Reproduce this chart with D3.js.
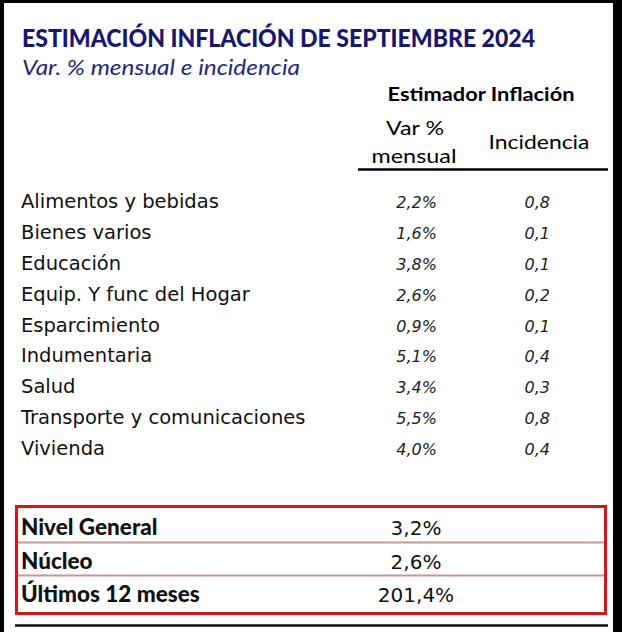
<!DOCTYPE html>
<html>
<head>
<meta charset="utf-8">
<script src="https://cdn.jsdelivr.net/npm/d3@7"></script>
<style>
  html, body { margin: 0; padding: 0; background: #000; }
  svg { display: block; }
</style>
</head>
<body>
<div id="tabla"></div>
<script>
// Datos
var categories  = ['Alimentos y bebidas', 'Bienes varios', 'Educación', 'Equip. Y func del Hogar',
                   'Esparcimiento', 'Indumentaria', 'Salud', 'Transporte y comunicaciones', 'Vivienda']
var varMensual  = [2.2, 1.6, 3.8, 2.6, 0.9, 5.1, 3.4, 5.5, 4.0]
var incidencia  = [0.8, 0.1, 0.1, 0.2, 0.1, 0.4, 0.3, 0.8, 0.4]

var resumenLabels = ['Nivel General', 'Núcleo', 'Últimos 12 meses']
var resumenValues = [3.2, 2.6, 201.4]

var title    = 'ESTIMACIÓN INFLACIÓN DE SEPTIEMBRE 2024'
var subtitle = 'Var. % mensual e incidencia'

// Tamaño
var width  = 622
var height = 632

var navy = '#17176e'
var red  = '#d7151b'

// formato con coma decimal
var es = d3.formatLocale({decimal: ',', thousands: '.', grouping: [3], currency: ['$', '']})
var fmt = es.format('.1f')

var svg = d3.select('#tabla').append('svg')
    .attr('width',  width)
    .attr('height', height)

// marco
svg.append('rect')
    .attr('x', 4).attr('y', 3)
    .attr('width', 609).attr('height', height - 3)
    .attr('fill', '#fff')

// titulo
svg.append('text')
    .attr('x', 22).attr('y', 47)
    .attr('textLength', 513).attr('lengthAdjust', 'spacingAndGlyphs')
    .style('font-family', 'Lato, sans-serif')
    .style('font-weight', 900)
    .style('font-size', '24px')
    .attr('fill', navy)
    .text(title)

svg.append('text')
    .attr('x', 22).attr('y', 75)
    .attr('textLength', 278).attr('lengthAdjust', 'spacingAndGlyphs')
    .style('font-family', 'Lato, sans-serif')
    .style('font-style', 'italic')
    .style('font-size', '21px')
    .attr('fill', '#1e2a7a')
    .text(subtitle)

// encabezado
var header = svg.append('g')
    .style('font-family', 'Lato, sans-serif')
    .attr('fill', '#000')

header.append('text')
    .attr('x', 481).attr('y', 101)
    .attr('text-anchor', 'middle')
    .attr('textLength', 187).attr('lengthAdjust', 'spacingAndGlyphs')
    .style('font-weight', 700)
    .style('font-size', '19px')
    .text('Estimador Inflación')

header.append('text')
    .attr('x', 415).attr('y', 135)
    .attr('text-anchor', 'middle')
    .attr('textLength', 58).attr('lengthAdjust', 'spacingAndGlyphs')
    .style('font-size', '19px')
    .text('Var %')

header.append('text')
    .attr('x', 414).attr('y', 163)
    .attr('text-anchor', 'middle')
    .attr('textLength', 85).attr('lengthAdjust', 'spacingAndGlyphs')
    .style('font-size', '19px')
    .text('mensual')

header.append('text')
    .attr('x', 539).attr('y', 149)
    .attr('text-anchor', 'middle')
    .attr('textLength', 101).attr('lengthAdjust', 'spacingAndGlyphs')
    .style('font-size', '19px')
    .text('Incidencia')

header.append('line')
    .attr('x1', 358).attr('x2', 608)
    .attr('y1', 169.5).attr('y2', 169.5)
    .attr('stroke', '#000')
    .attr('stroke-width', 2.5)

// escalas
var y = d3.scalePoint().domain(categories).range([208, 455])
var col = d3.scaleOrdinal().domain(['label', 'var', 'inc']).range([21, 437, 550])

var rows = categories.map((c, i) => ({cat: c, v: varMensual[i], inc: incidencia[i]}))

var g = svg.append('g').style('font-family', '"DejaVu Sans", sans-serif')

var row = g.selectAll('g.row').data(rows).enter()
    .append('g')
    .attr('class', 'row')
    .attr('transform', d => `translate(0,${y(d.cat)})`)

row.append('text')
    .attr('x', col('label'))
    .style('font-size', '19.5px')
    .attr('fill', '#111')
    .text(d => d.cat)

row.append('text')
    .attr('x', col('var'))
    .attr('text-anchor', 'end')
    .style('font-size', '16px')
    .style('font-style', 'italic')
    .attr('fill', '#222')
    .text(d => fmt(d.v) + '%')

row.append('text')
    .attr('x', col('inc'))
    .attr('text-anchor', 'end')
    .style('font-size', '16px')
    .style('font-style', 'italic')
    .attr('fill', '#222')
    .text(d => fmt(d.inc))

// resumen
var ys = d3.scalePoint().domain(resumenLabels).range([535, 602])

svg.append('line')
    .attr('x1', 16).attr('x2', 606)
    .attr('y1', 542.5).attr('y2', 542.5)
    .attr('stroke', '#c99595').attr('stroke-width', 2)
svg.append('line')
    .attr('x1', 16).attr('x2', 606)
    .attr('y1', 575.5).attr('y2', 575.5)
    .attr('stroke', '#c99595').attr('stroke-width', 2)

svg.append('rect')
    .attr('x', 16.5).attr('y', 506.5)
    .attr('width', 589).attr('height', 107)
    .attr('fill', 'none')
    .attr('stroke', red)
    .attr('stroke-width', 3)

var res = svg.selectAll('g.res').data(resumenLabels.map((l, i) => ({label: l, v: resumenValues[i]}))).enter()
    .append('g')
    .attr('class', 'res')
    .attr('transform', d => `translate(0,${ys(d.label)})`)

res.append('text')
    .attr('x', 21)
    .style('font-family', 'Lato, sans-serif')
    .style('font-weight', 900)
    .style('font-size', '22.5px')
    .attr('fill', '#111')
    .text(d => d.label)

res.append('text')
    .attr('x', 416)
    .attr('text-anchor', 'middle')
    .style('font-family', '"DejaVu Sans", sans-serif')
    .style('font-size', '20px')
    .attr('fill', '#111')
    .text(d => fmt(d.v) + '%')

// linea inferior
svg.append('line')
    .attr('x1', 15).attr('x2', 608)
    .attr('y1', 625.5).attr('y2', 625.5)
    .attr('stroke', '#111')
    .attr('stroke-width', 2.5)
</script>
</body>
</html>
